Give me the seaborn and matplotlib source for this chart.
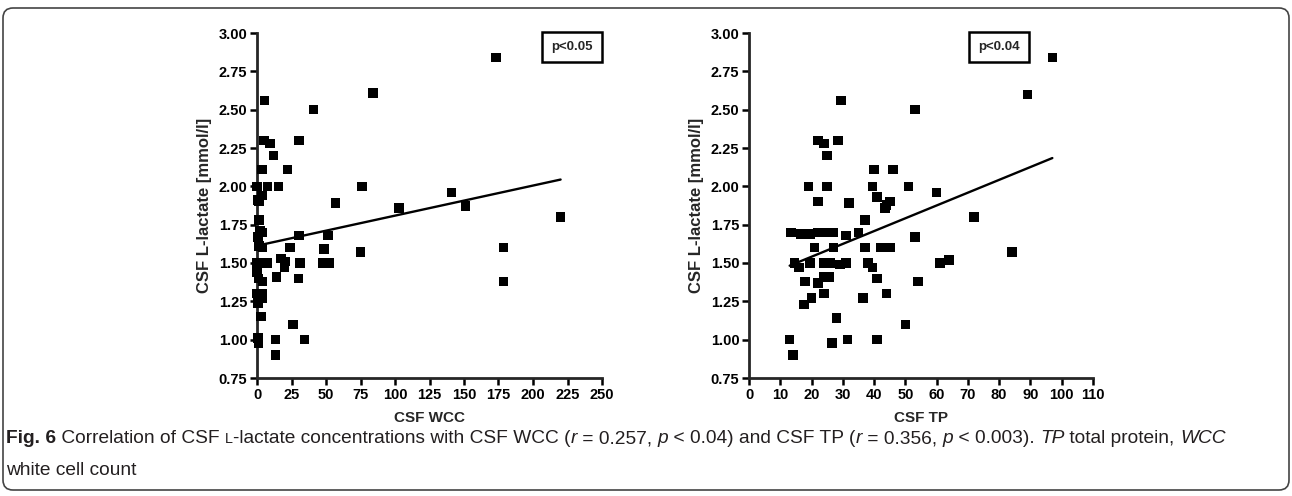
import matplotlib
matplotlib.use("Agg")
import matplotlib.pyplot as plt
import seaborn as sns
from matplotlib.patches import FancyBboxPatch
from matplotlib.ticker import FormatStrFormatter, MultipleLocator
from matplotlib.transforms import IdentityTransform

# CSF WCC panel
wcc = [173, 84, 41, 5.5, 5, 9.5, 30.5, 12, 22, 3.5,
       0, 7.5, 15.5, 76, 141, 57, 3.5, 0.5, 1.5, 103,
       151, 220, 1.5, 2, 3.5, 0.5, 30.5, 51.5, 1.5, 4,
       24, 48.5, 75, 178.5, 0, 2, 7.5, 17.5, 20.5, 20,
       31, 47.5, 52.5, 14, 30, 0, 1, 4, 178.5, 0,
       3.5, 3.5, 0.5, 3, 26, 0.5, 1, 13.5, 34.5, 13.5]
lactate_wcc = [2.84, 2.61, 2.50, 2.56, 2.30, 2.28, 2.30, 2.20, 2.11, 2.11,
               2.00, 2.00, 2.00, 2.00, 1.96, 1.89, 1.94, 1.91, 1.90, 1.86,
               1.87, 1.80, 1.78, 1.71, 1.70, 1.67, 1.68, 1.68, 1.61, 1.60,
               1.60, 1.59, 1.57, 1.60, 1.50, 1.50, 1.50, 1.53, 1.51, 1.47,
               1.50, 1.50, 1.50, 1.41, 1.40, 1.44, 1.40, 1.38, 1.38, 1.30,
               1.30, 1.27, 1.24, 1.15, 1.10, 1.01, 0.98, 1.00, 1.00, 0.90]

# CSF TP panel
tp = [97, 89, 29.5, 53, 22, 24, 28.5, 25, 40, 46,
      19, 25, 39.5, 51, 60, 41, 22, 32, 43.5, 44,
      45, 37, 72, 13.5, 16.5, 19.5, 22, 24, 26, 27,
      31, 35, 53, 21, 27, 37, 42, 45, 14.5, 16,
      19.5, 24, 26, 29, 31, 38, 39.5, 61, 64, 84,
      18, 22, 24, 25.5, 41, 54, 24, 44, 17.5, 20,
      36.5, 28, 50, 13, 14, 26.5, 31.5, 41]
lactate_tp = [2.84, 2.60, 2.56, 2.50, 2.30, 2.28, 2.30, 2.20, 2.11, 2.11,
              2.00, 2.00, 2.00, 2.00, 1.96, 1.93, 1.90, 1.89, 1.86, 1.88,
              1.90, 1.78, 1.80, 1.70, 1.69, 1.69, 1.70, 1.70, 1.70, 1.70,
              1.68, 1.70, 1.67, 1.60, 1.60, 1.60, 1.60, 1.60, 1.50, 1.47,
              1.50, 1.50, 1.50, 1.49, 1.50, 1.50, 1.47, 1.50, 1.52, 1.57,
              1.38, 1.37, 1.41, 1.41, 1.40, 1.38, 1.30, 1.30, 1.23, 1.27,
              1.27, 1.14, 1.10, 1.00, 0.90, 0.98, 1.00, 1.00]

Y_LABEL = "CSF L-lactate [mmol/l]"
Y_TICKS = [0.75, 1.00, 1.25, 1.50, 1.75, 2.00, 2.25, 2.50, 2.75, 3.00]

sns.set_style("ticks")
plt.rcParams["font.family"] = ["Liberation Sans", "DejaVu Sans"]

W, H = 1292, 496
fig = plt.figure(figsize=(W / 100, H / 100), dpi=100)


def draw_panel(ax, x, y, xmax, xstep, xlabel, ptext, pxy):
    sns.regplot(x=x, y=y, scatter=False, ci=None, color="black",
                line_kws={"lw": 1.7}, ax=ax)
    sns.scatterplot(x=x, y=y, marker="s", s=48, color="black",
                    edgecolor="none", clip_on=False, zorder=3, ax=ax)
    ax.set_xlim(0, xmax)
    ax.set_ylim(0.75, 3.0)
    ax.xaxis.set_major_locator(MultipleLocator(xstep))
    ax.set_yticks(Y_TICKS)
    ax.yaxis.set_major_formatter(FormatStrFormatter("%.2f"))
    sns.despine(ax=ax)
    for side in ["left", "bottom"]:
        ax.spines[side].set_linewidth(2)
    ax.tick_params(direction="out", length=5, width=1.8, pad=2,
                   labelsize=10.5, colors="black")
    for lab in ax.get_xticklabels() + ax.get_yticklabels():
        lab.set_fontweight("bold")
    ax.set_xlabel(xlabel, fontsize=11, fontweight="bold", labelpad=7)
    ax.set_ylabel(Y_LABEL, fontsize=12, fontweight="bold", labelpad=5)
    ax.text(pxy[0], pxy[1], ptext, ha="center", va="center", fontsize=9.5,
            fontweight="bold", clip_on=False, zorder=4,
            bbox=dict(boxstyle="square,pad=0.7", fc="white", ec="black", lw=1.8))


ax1 = fig.add_axes([257 / W, 1 - 378 / H, 345 / W, 345 / H])
draw_panel(ax1, wcc, lactate_wcc, 250, 25, "CSF WCC", "p<0.05", (228, 2.91))

ax2 = fig.add_axes([749 / W, 1 - 378 / H, 344 / W, 345 / H])
draw_panel(ax2, tp, lactate_tp, 110, 10, "CSF TP", "p<0.04", (80, 2.91))

# page frame
fig.patches.append(FancyBboxPatch((3, 6), W - 6, 482,
                                  boxstyle="round,pad=0,rounding_size=10",
                                  transform=IdentityTransform(), fill=False,
                                  ec="#444444", lw=1.2))

# caption with mixed styles, laid out run by run
cap_color = "#231f20"
cap_size = 13.8
normal = dict(fontsize=cap_size)
bold = dict(fontsize=cap_size, fontweight="bold")
ital = dict(fontsize=cap_size, fontstyle="italic")
small = dict(fontsize=cap_size * 0.75)
caption_line1 = [
    ("Fig. 6", bold), (" Correlation of CSF ", normal), ("L", small),
    ("-lactate concentrations with CSF WCC (", normal), ("r", ital),
    (" = 0.257, ", normal), ("p", ital), (" < 0.04) and CSF TP (", normal),
    ("r", ital), (" = 0.356, ", normal), ("p", ital), (" < 0.003). ", normal),
    ("TP", ital), (" total protein, ", normal), ("WCC", ital),
]
caption_line2 = [("white cell count", normal)]

renderer = fig.canvas.get_renderer()


def draw_runs(runs, x, y):
    for text, style in runs:
        t = fig.text(x, y, text, transform=IdentityTransform(), va="baseline",
                     ha="left", color=cap_color, **style)
        x += t.get_window_extent(renderer).width


draw_runs(caption_line1, 6, 53)
draw_runs(caption_line2, 6, 21)

fig.savefig("out.png", dpi=100)
plt.close(fig)
